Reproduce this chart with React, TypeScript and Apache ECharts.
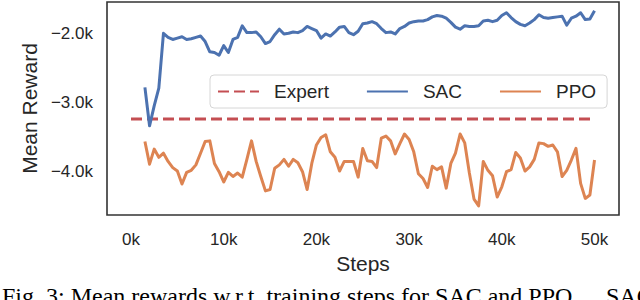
import React, { useEffect, useRef } from 'react';
import * as echarts from 'echarts';

const steps = [
  1500, 2000, 2500, 3000, 3500, 4000, 4500, 5000, 5500, 6000,
  6500, 7000, 7500, 8000, 8500, 9000, 9500, 10000, 10500, 11000,
  11500, 12000, 12500, 13000, 13500, 14000, 14500, 15000, 15500, 16000,
  16500, 17000, 17500, 18000, 18500, 19000, 19500, 20000, 20500, 21000,
  21500, 22000, 22500, 23000, 23500, 24000, 24500, 25000, 25500, 26000,
  26500, 27000, 27500, 28000, 28500, 29000, 29500, 30000, 30500, 31000,
  31500, 32000, 32500, 33000, 33500, 34000, 34500, 35000, 35500, 36000,
  36500, 37000, 37500, 38000, 38500, 39000, 39500, 40000, 40500, 41000,
  41500, 42000, 42500, 43000, 43500, 44000, 44500, 45000, 45500, 46000,
  46500, 47000, 47500, 48000, 48500, 49000, 49500, 50000,
];

const sacReward = [
  -2780, -3340, -3050, -2790, -1990, -2050, -2080, -2060, -2040, -2080,
  -2070, -2050, -2030, -2110, -2260, -2270, -2310, -2170, -2270, -2080,
  -2050, -1880, -1980, -1980, -1970, -2040, -2140, -2110, -2010, -1930,
  -2000, -1990, -1970, -1980, -1950, -1890, -1920, -1950, -2060, -2000,
  -2030, -1970, -1900, -1890, -1980, -2010, -1960, -1850, -1840, -1820,
  -1850, -1920, -1980, -1970, -2000, -1920, -1890, -1840, -1820, -1810,
  -1810, -1790, -1750, -1730, -1740, -1770, -1830, -1900, -1930, -1880,
  -1890, -1890, -1880, -1810, -1800, -1820, -1800, -1730, -1690, -1760,
  -1820, -1860, -1880, -1840, -1790, -1720, -1760, -1770, -1760, -1750,
  -1740, -1870, -1770, -1740, -1690, -1790, -1780, -1660,
];

const ppoReward = [
  -3570, -3900, -3680, -3800, -3740, -3860, -3950, -4000, -4190, -4020,
  -3990, -3910, -3740, -3570, -3560, -3890, -4010, -4160, -4020, -4080,
  -4030, -4090, -3830, -3560, -3860, -4080, -4290, -4270, -3960, -3910,
  -3830, -3930, -3830, -3880, -4010, -4270, -3890, -3620, -3510, -3470,
  -3720, -3800, -4000, -3860, -3860, -3860, -4090, -3670, -3850, -3860,
  -3950, -3520, -3490, -3560, -3750, -3600, -3460, -3540, -3720, -4040,
  -4110, -4240, -3930, -3980, -3940, -4250, -3890, -3740, -3460, -3590,
  -4030, -4410, -4510, -3860, -3990, -4070, -4380, -4230, -4010, -3980,
  -3730, -3810, -4000, -3940, -3830, -3590, -3600, -3640, -3620, -3720,
  -4080, -3990, -3840, -3670, -4180, -4400, -4350, -3840,
];

const expertSteps = [0, 50000];
const expertReward = [-3240, -3240];

const xTickValues = [0, 10000, 20000, 30000, 40000, 50000];
const yTickValues = [-4000, -3000, -2000];
const legendNames = ['Expert', 'SAC', 'PPO'];
const captionMain = 'Fig. 3: Mean rewards w.r.t. training steps for SAC and PPO.';
const captionTail = 'SAC';

const SANS = "'Liberation Sans', Arial, sans-serif";
const SERIF = "'Liberation Serif', 'Times New Roman', serif";
const TEXT = '#262626';

export default function App() {
  const ref = useRef<HTMLDivElement>(null);
  useEffect(() => {
    document.body.style.margin = '0';
    const chart = echarts.init(ref.current!, null, { renderer: 'svg' });
    chart.setOption({
      animation: false,
      backgroundColor: '#ffffff',
      grid: {
        left: 107, right: 21, top: 2, bottom: 85,
        show: true, borderColor: '#333333', borderWidth: 1.6,
        backgroundColor: 'transparent',
      },
      xAxis: {
        type: 'value', min: -2590, max: 52640,
        axisLine: { show: false }, axisTick: { show: false }, splitLine: { show: false },
        axisLabel: {
          customValues: xTickValues,
          formatter: (v: number) => `${v / 1000}k`,
          fontSize: 17, color: TEXT, fontFamily: SANS, margin: 16,
        },
        name: 'Steps', nameLocation: 'middle', nameGap: 37,
        nameTextStyle: { fontSize: 21, color: TEXT, fontFamily: SANS },
      },
      yAxis: {
        type: 'value', min: -4642, max: -1533,
        axisLine: { show: false }, axisTick: { show: false }, splitLine: { show: false },
        axisLabel: {
          customValues: yTickValues,
          formatter: (v: number) => `${v < 0 ? '\u2212' : ''}${Math.abs(v / 1000).toFixed(1)}k`,
          fontSize: 17, color: TEXT, fontFamily: SANS, margin: 14,
        },
        name: 'Mean Reward', nameLocation: 'middle', nameGap: 63, nameRotate: 90,
        nameTextStyle: { fontSize: 21, color: TEXT, fontFamily: SANS },
      },
      legend: {
        data: legendNames,
        left: 210, top: 75,
        itemWidth: 41, itemHeight: 19, itemGap: 37,
        padding: [7, 11, 7, 7],
        borderColor: '#d6d6d6', borderWidth: 1, borderRadius: 4,
        backgroundColor: 'rgba(255,255,255,0.8)',
        itemStyle: { opacity: 0 },
        textStyle: { fontSize: 19, color: TEXT, fontFamily: SANS, padding: [0, 0, 0, 10] },
      },
      series: [
        {
          name: 'Expert', type: 'line', symbol: 'none',
          data: expertSteps.map((s, i) => [s, expertReward[i]]),
          lineStyle: { color: '#C44E52', width: 3, type: [11, 5] },
          itemStyle: { color: '#C44E52' },
        },
        {
          name: 'SAC', type: 'line', symbol: 'none',
          data: steps.map((s, i) => [s, sacReward[i]]),
          lineStyle: { color: '#4C72B0', width: 3, join: 'round' },
          itemStyle: { color: '#4C72B0' },
        },
        {
          name: 'PPO', type: 'line', symbol: 'none',
          data: steps.map((s, i) => [s, ppoReward[i]]),
          lineStyle: { color: '#DD8452', width: 3, join: 'round' },
          itemStyle: { color: '#DD8452' },
        },
      ],
      graphic: [
        {
          type: 'text', x: 2, y: 284,
          style: {
            text: captionMain, fontSize: 24, fontFamily: SERIF,
            fill: '#000000', verticalAlign: 'top',
          },
        },
        {
          type: 'text', x: 606, y: 284,
          style: {
            text: captionTail, fontSize: 24, fontFamily: SERIF,
            fill: '#000000', verticalAlign: 'top',
          },
        },
      ],
    });
    return () => chart.dispose();
  }, []);
  return <div ref={ref} style={{ position: 'fixed', left: 0, top: 0, width: 640, height: 300 }} />;
}
